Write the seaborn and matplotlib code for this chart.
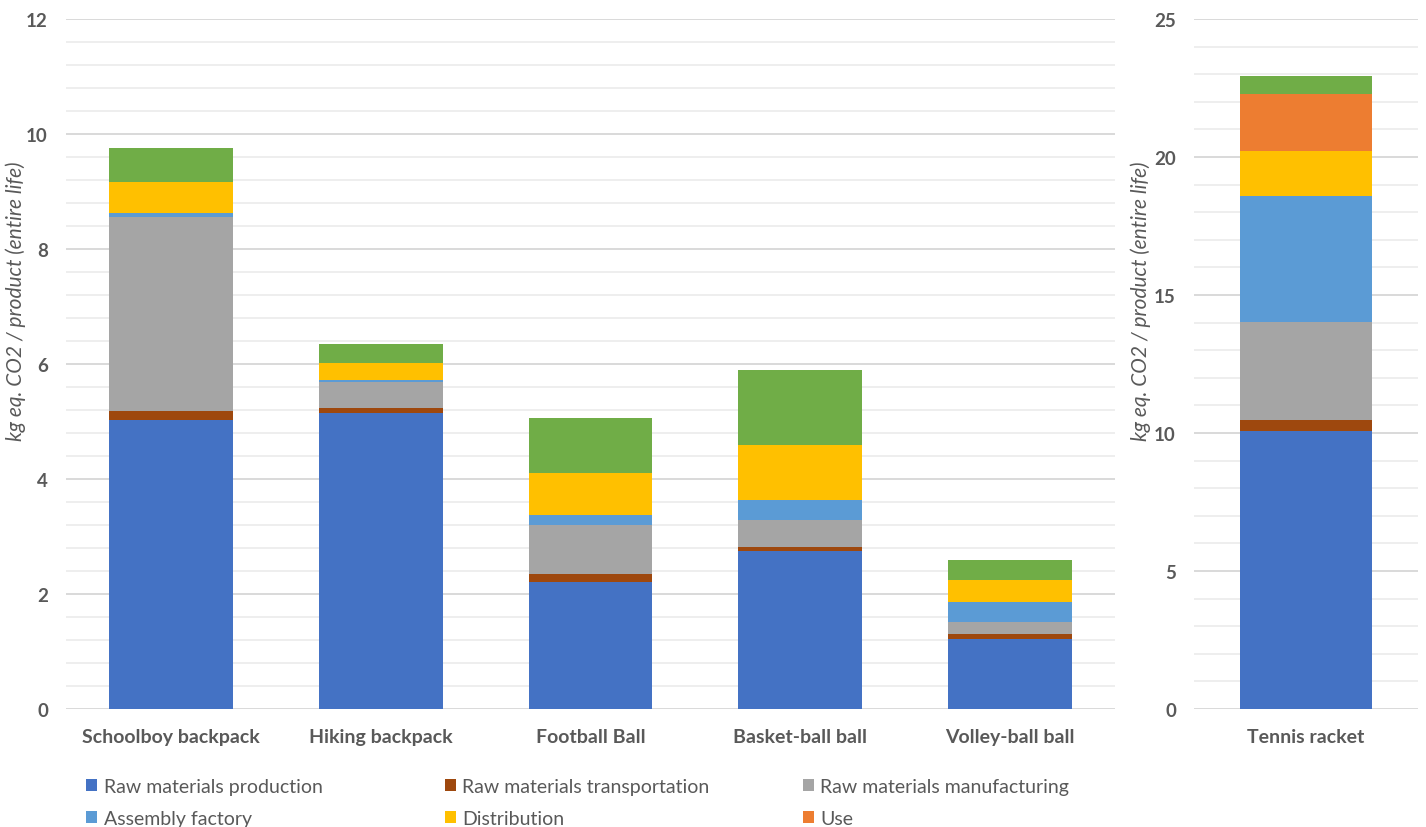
import numpy as np
import pandas as pd
import matplotlib
matplotlib.use("Agg")
import matplotlib.pyplot as plt
from matplotlib.patches import Patch
from matplotlib.ticker import MultipleLocator
import seaborn as sns

# Life-cycle stages (bottom to top of each stack)
stages = [
    "Raw materials production",
    "Raw materials transportation",
    "Raw materials manufacturing",
    "Assembly factory",
    "Distribution",
    "Use",
    "End of life",
]
stage_colors = ["#4472C4", "#9E480E", "#A5A5A5", "#5B9BD5", "#FFC000", "#ED7D31", "#70AD47"]

# Small products (left panel), kg eq. CO2 per stage
small_products = ["Schoolboy backpack", "Hiking backpack", "Football Ball",
                  "Basket-ball ball", "Volley-ball ball"]
raw_production = [5.03, 5.15, 2.21, 2.74, 1.22]
raw_transport = [0.15, 0.09, 0.14, 0.08, 0.09]
raw_manufacturing = [3.38, 0.44, 0.85, 0.46, 0.20]
assembly = [0.07, 0.04, 0.18, 0.35, 0.35]
distribution = [0.54, 0.29, 0.72, 0.96, 0.39]
use = [0.0, 0.0, 0.0, 0.0, 0.0]
end_of_life = [0.59, 0.33, 0.96, 1.30, 0.35]

# Tennis racket (right panel)
racket_products = ["Tennis racket"]
racket_values = [10.06, 0.42, 3.55, 4.57, 1.61, 2.07, 0.64]

small_table = pd.DataFrame(
    [raw_production, raw_transport, raw_manufacturing, assembly,
     distribution, use, end_of_life],
    index=stages, columns=small_products)
racket_table = pd.DataFrame({"Tennis racket": racket_values}, index=stages)

sns.set_theme(style="white")
plt.rcParams["font.family"] = ["Lato", "DejaVu Sans"]
text_color = "#595959"

fig = plt.figure(figsize=(14.26, 8.28), dpi=100)
ax_left = fig.add_axes([66 / 1426, 118 / 828, 1049 / 1426, 690 / 828])
ax_right = fig.add_axes([1194 / 1426, 118 / 828, 224 / 1426, 690 / 828])


def stacked(ax, table):
    cum = table.cumsum(axis=0)
    # draw from the top of the stack downwards so each segment shows
    for stage, color in reversed(list(zip(stages, stage_colors))):
        long = pd.DataFrame({"product": cum.columns, "value": cum.loc[stage].values})
        sns.barplot(data=long, x="product", y="value", color=color,
                    saturation=1, width=0.59, errorbar=None, ax=ax,
                    linewidth=0)


def style(ax, top, major, minor, label_x):
    ax.set_ylim(0, top)
    ax.yaxis.set_major_locator(MultipleLocator(major))
    ax.yaxis.set_minor_locator(MultipleLocator(minor))
    ax.grid(True, which="major", axis="y", color="#D9D9D9", linewidth=1.4)
    ax.grid(True, which="minor", axis="y", color="#EDEDED", linewidth=1.3)
    ax.grid(False, axis="x")
    ax.set_axisbelow(True)
    for sp in ax.spines.values():
        sp.set_visible(False)
    ax.tick_params(axis="both", which="both", length=0)
    ax.tick_params(axis="y", pad=13, labelsize=13.5, labelcolor=text_color)
    ax.tick_params(axis="x", pad=14, labelsize=14, labelcolor=text_color)
    for t in ax.get_yticklabels() + ax.get_xticklabels():
        t.set_fontweight("bold")
    ax.set_xlabel("")
    ax.set_ylabel("kg eq. CO2 / product (entire life)", fontsize=15,
                  fontstyle="italic", color=text_color)
    ax.yaxis.set_label_coords(label_x, 0.592)


stacked(ax_left, small_table)
stacked(ax_right, racket_table)
style(ax_left, 12, 2, 0.4, -0.038)
style(ax_right, 25, 5, 1, -0.19)
ax_left.set_xlim(-0.5, len(small_products) - 0.5)
ax_right.set_xlim(-0.5, 0.5)

# Legend laid out in three evenly spaced columns
columns = [[0, 3], [1, 4], [2, 5]]
col_x = [86, 445, 803]
for xs, idx in zip(col_x, columns):
    handles = [Patch(facecolor=stage_colors[i], edgecolor="none") for i in idx]
    labels = [stages[i] for i in idx]
    fig.legend(handles, labels, loc="upper left",
               bbox_to_anchor=(xs / 1426, 1 - 779 / 828),
               frameon=False, fontsize=14, labelcolor=text_color,
               handlelength=0.55, handleheight=0.55, handletextpad=0.35,
               labelspacing=0.78, borderpad=0, borderaxespad=0)

fig.savefig("out.png", dpi=100)
